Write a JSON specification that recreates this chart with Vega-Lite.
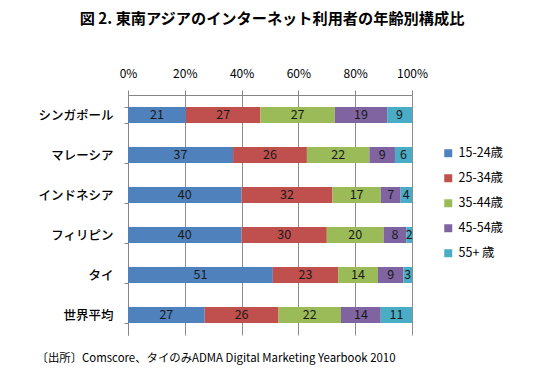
{
  "$schema": "https://vega.github.io/schema/vega-lite/v6.json",
  "width": 284,
  "height": 240,
  "autosize": {"type": "none"},
  "padding": {"left": 128, "top": 95, "right": 138, "bottom": 57},
  "background": "white",
  "title": {
    "text": "図 2. 東南アジアのインターネット利用者の年齢別構成比",
    "font": "Noto Sans CJK JP",
    "fontSize": 15.2,
    "fontWeight": "bold",
    "color": "black",
    "anchor": "middle",
    "frame": "group",
    "dx": 2,
    "offset": 40
  },
  "config": {
    "view": {"stroke": null},
    "font": "Noto Sans CJK JP"
  },
  "data": {
    "values": [
      {"country": "シンガポール", "age": "15-24歳", "value": 21},
      {"country": "シンガポール", "age": "25-34歳", "value": 27},
      {"country": "シンガポール", "age": "35-44歳", "value": 27},
      {"country": "シンガポール", "age": "45-54歳", "value": 19},
      {"country": "シンガポール", "age": "55+ 歳", "value": 9},
      {"country": "マレーシア", "age": "15-24歳", "value": 37},
      {"country": "マレーシア", "age": "25-34歳", "value": 26},
      {"country": "マレーシア", "age": "35-44歳", "value": 22},
      {"country": "マレーシア", "age": "45-54歳", "value": 9},
      {"country": "マレーシア", "age": "55+ 歳", "value": 6},
      {"country": "インドネシア", "age": "15-24歳", "value": 40},
      {"country": "インドネシア", "age": "25-34歳", "value": 32},
      {"country": "インドネシア", "age": "35-44歳", "value": 17},
      {"country": "インドネシア", "age": "45-54歳", "value": 7},
      {"country": "インドネシア", "age": "55+ 歳", "value": 4},
      {"country": "フィリピン", "age": "15-24歳", "value": 40},
      {"country": "フィリピン", "age": "25-34歳", "value": 30},
      {"country": "フィリピン", "age": "35-44歳", "value": 20},
      {"country": "フィリピン", "age": "45-54歳", "value": 8},
      {"country": "フィリピン", "age": "55+ 歳", "value": 2},
      {"country": "タイ", "age": "15-24歳", "value": 51},
      {"country": "タイ", "age": "25-34歳", "value": 23},
      {"country": "タイ", "age": "35-44歳", "value": 14},
      {"country": "タイ", "age": "45-54歳", "value": 9},
      {"country": "タイ", "age": "55+ 歳", "value": 3},
      {"country": "世界平均", "age": "15-24歳", "value": 27},
      {"country": "世界平均", "age": "25-34歳", "value": 26},
      {"country": "世界平均", "age": "35-44歳", "value": 22},
      {"country": "世界平均", "age": "45-54歳", "value": 14},
      {"country": "世界平均", "age": "55+ 歳", "value": 11}
    ]
  },
  "encoding": {
    "y": {
      "field": "country",
      "type": "nominal",
      "sort": ["シンガポール", "マレーシア", "インドネシア", "フィリピン", "タイ", "世界平均"],
      "scale": {"paddingInner": 0.6, "paddingOuter": 0.3},
      "axis": {
        "title": null,
        "tickBand": "extent",
        "tickSize": 4,
        "tickColor": "#868686",
        "domainColor": "#868686",
        "labelPadding": 11,
        "labelFontSize": 12.5,
        "labelFontWeight": 500,
        "labelColor": "black",
        "labelFont": "Noto Sans CJK JP"
      }
    }
  },
  "layer": [
    {
      "mark": {"type": "bar"},
      "encoding": {
        "x": {
          "field": "value",
          "type": "quantitative",
          "stack": "normalize",
          "scale": {"domain": [0, 1], "nice": false},
          "axis": {
            "orient": "top",
            "title": null,
            "values": [0, 0.2, 0.4, 0.6, 0.8, 1],
            "format": ".0%",
            "grid": true,
            "gridColor": "#8c8c8c",
            "gridOpacity": 1,
            "domainColor": "#868686",
            "tickColor": "#868686",
            "tickSize": 5,
            "labelPadding": 10,
            "labelFontSize": 12,
            "labelColor": "black",
            "labelFlush": false
          }
        },
        "order": {"field": "age", "sort": "ascending"},
        "color": {
          "field": "age",
          "type": "nominal",
          "scale": {
            "domain": ["15-24歳", "25-34歳", "35-44歳", "45-54歳", "55+ 歳"],
            "range": ["#4F81BD", "#C0504D", "#9BBB59", "#8064A2", "#4BACC6"]
          },
          "legend": {
            "title": null,
            "orient": "none",
            "legendX": 314,
            "legendY": 52,
            "symbolType": "square",
            "symbolSize": 64,
            "symbolStrokeWidth": 0,
            "labelFontSize": 12.5,
            "labelColor": "black",
            "rowPadding": 12,
            "labelOffset": 4,
            "padding": 0
          }
        }
      }
    },
    {
      "mark": {"type": "text", "fontSize": 12.5, "color": "#1a1a1a", "baseline": "middle", "align": "center"},
      "encoding": {
        "x": {
          "field": "value",
          "type": "quantitative",
          "stack": "normalize",
          "bandPosition": 0.5,
          "scale": {"domain": [0, 1], "nice": false},
          "axis": {
            "orient": "bottom",
            "title": "〔出所〕Comscore、タイのみADMA Digital Marketing Yearbook 2010",
            "labels": false,
            "ticks": false,
            "domain": false,
            "grid": false,
            "titleAnchor": "start",
            "titleAlign": "left",
            "titleX": -92,
            "titleY": 23,
            "titleBaseline": "middle",
            "titleFontSize": 11.4,
            "titleFontWeight": "normal",
            "titleColor": "black"
          }
        },
        "order": {"field": "age", "sort": "ascending"},
        "detail": {"field": "age", "type": "nominal"},
        "text": {"field": "value", "type": "quantitative"}
      }
    }
  ],
  "resolve": {"axis": {"x": "independent"}}
}
